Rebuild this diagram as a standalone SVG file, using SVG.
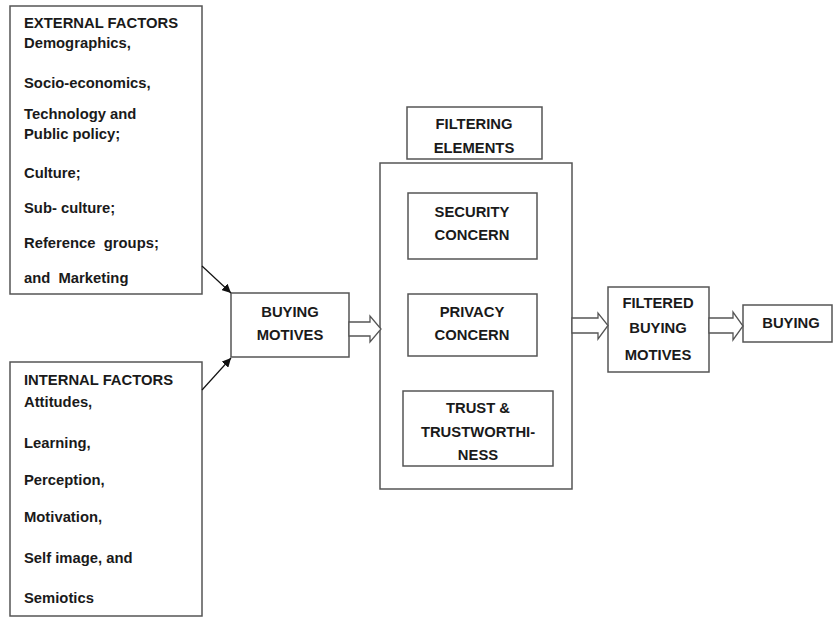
<svg xmlns="http://www.w3.org/2000/svg" width="833" height="617" viewBox="0 0 833 617">
<style>
.box{fill:#fff;stroke:#555;stroke-width:1.5}
.t{font-family:"Liberation Sans",Arial,sans-serif;font-weight:bold;font-size:14.8px;fill:#1a1a1a}
.c{text-anchor:middle}
.ln{stroke:#111;stroke-width:1.2;fill:none}
.ba{fill:#fff;stroke:#555;stroke-width:1.3;stroke-linejoin:miter}
</style>
<defs>
<marker id="ah" viewBox="0 0 10 10" refX="10" refY="5" markerWidth="9" markerHeight="9" markerUnits="userSpaceOnUse" orient="auto">
<path d="M0,0 L10,5 L0,10 z" fill="#111"/>
</marker>
</defs>
<rect width="833" height="617" fill="#fff"/>
<g id="external">
<rect class="box" x="10" y="6" width="192" height="288"/>
<text class="t" x="24" y="28">EXTERNAL FACTORS</text>
<text class="t" x="24" y="48">Demographics,</text>
<text class="t" x="24" y="88">Socio-economics,</text>
<text class="t" x="24" y="119">Technology and</text>
<text class="t" x="24" y="139">Public policy;</text>
<text class="t" x="24" y="178">Culture;</text>
<text class="t" x="24" y="213">Sub- culture;</text>
<text class="t" x="24" y="248" xml:space="preserve">Reference  groups;</text>
<text class="t" x="24" y="283" xml:space="preserve">and  Marketing</text>
</g>
<g id="internal">
<rect class="box" x="10" y="362" width="192" height="254"/>
<text class="t" x="24" y="385">INTERNAL FACTORS</text>
<text class="t" x="24" y="407">Attitudes,</text>
<text class="t" x="24" y="448">Learning,</text>
<text class="t" x="24" y="485">Perception,</text>
<text class="t" x="24" y="522">Motivation,</text>
<text class="t" x="24" y="563">Self image, and</text>
<text class="t" x="24" y="603">Semiotics</text>
</g>
<g id="buying-motives">
<rect class="box" x="231" y="293" width="118" height="64"/>
<text class="t c" x="290" y="317">BUYING</text>
<text class="t c" x="290" y="340">MOTIVES</text>
</g>
<g id="filtering-elements">
<rect class="box" x="407" y="107" width="135" height="52"/>
<text class="t c" x="474" y="129">FILTERING</text>
<text class="t c" x="474" y="153">ELEMENTS</text>
</g>
<g id="filter-container">
<rect class="box" x="380" y="163" width="192" height="326"/>
</g>
<g id="security">
<rect class="box" x="408" y="193" width="129" height="66"/>
<text class="t c" x="472" y="217">SECURITY</text>
<text class="t c" x="472" y="240">CONCERN</text>
</g>
<g id="privacy">
<rect class="box" x="408" y="294" width="129" height="62"/>
<text class="t c" x="472" y="317">PRIVACY</text>
<text class="t c" x="472" y="340">CONCERN</text>
</g>
<g id="trust">
<rect class="box" x="403" y="391" width="150" height="75"/>
<text class="t c" x="478" y="413">TRUST &amp;</text>
<text class="t c" x="478" y="437">TRUSTWORTHI-</text>
<text class="t c" x="478" y="460">NESS</text>
</g>
<g id="filtered">
<rect class="box" x="608" y="287" width="101" height="85"/>
<text class="t c" x="658" y="308">FILTERED</text>
<text class="t c" x="658" y="333">BUYING</text>
<text class="t c" x="658" y="360">MOTIVES</text>
</g>
<g id="buying">
<rect class="box" x="743" y="305" width="89" height="37"/>
<text class="t c" x="791" y="328">BUYING</text>
</g>
<g id="connectors">
<line class="ln" x1="202" y1="266" x2="231" y2="293" marker-end="url(#ah)"/>
<line class="ln" x1="202" y1="390" x2="231" y2="358" marker-end="url(#ah)"/>
<polygon class="ba" points="349,322 370,322 370,316 381,329 370,342 370,336 349,336"/>
<polygon class="ba" points="572,318 598,318 598,313 608,325.5 598,339 598,333 572,333"/>
<polygon class="ba" points="709,318 733,318 733,312 743,326 733,340 733,333 709,333"/>
</g>
</svg>
